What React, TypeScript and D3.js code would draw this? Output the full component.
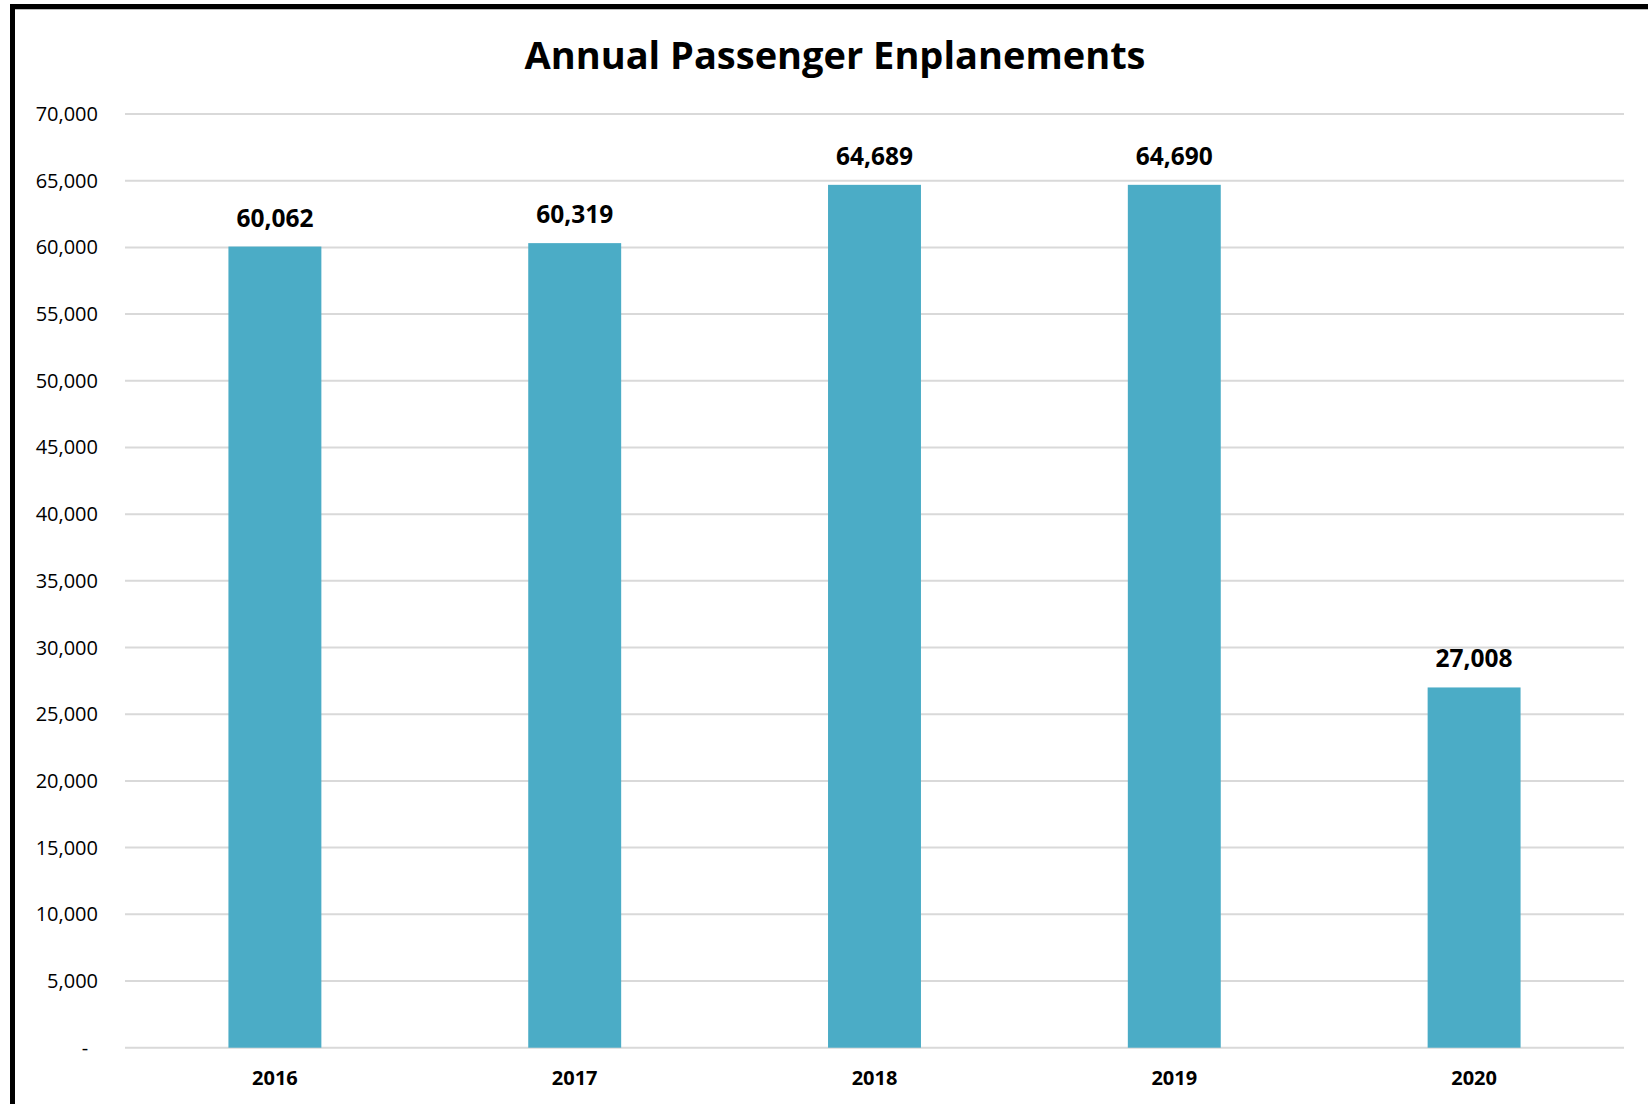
import React from "react";
import * as d3 from "d3";

const years = ["2016", "2017", "2018", "2019", "2020"];
const enplanements = [60062, 60319, 64689, 64690, 27008];
const yTicks = [0, 5000, 10000, 15000, 20000, 25000, 30000, 35000, 40000, 45000, 50000, 55000, 60000, 65000, 70000];
const title = "Annual Passenger Enplanements";

const W = 1648;
const H = 1104;
const FONT = "'Open Sans', 'Noto Sans', sans-serif";

export default function App() {
  const left = 125;
  const right = 1624;
  const top = 114;
  const bottom = 1047.7;

  const x = d3.scaleBand<string>().domain(years).range([left, right]).paddingInner(0.69).paddingOuter(0.345);
  const y = d3.scaleLinear().domain([0, 70000]).range([bottom, top]);
  const fmt = d3.format(",");

  return (
    <svg width={W} height={H} style={{ position: "absolute", left: 0, top: 0, background: "#fff" }}>
      <rect x={0} y={0} width={W} height={H} fill="#fff" />
      {/* frame */}
      <line x1={12.5} y1={4} x2={12.5} y2={H} stroke="#000" strokeWidth={5} />
      <line x1={10} y1={6.5} x2={W} y2={6.5} stroke="#000" strokeWidth={5} />
      <line x1={15} y1={9.5} x2={W} y2={9.5} stroke="#bbb" strokeWidth={1} />

      <text x={835} y={69} textAnchor="middle" fontFamily={FONT} fontWeight={700} fontSize={38} fill="#000">
        {title}
      </text>

      {yTicks.map((t) => (
        <g key={t}>
          <line x1={left} x2={right} y1={y(t)} y2={y(t)} stroke="#d9d9d9" strokeWidth={2} />
          {t === 0 ? (
            <text x={85} y={y(t)} dy="0.35em" textAnchor="middle" fontFamily={FONT} fontSize={20} fill="#000">
              -
            </text>
          ) : (
            <text x={98} y={y(t)} dy="0.35em" textAnchor="end" fontFamily={FONT} fontSize={20} fill="#000">
              {fmt(t)}
            </text>
          )}
        </g>
      ))}

      {years.map((yr, i) => {
        const v = enplanements[i];
        const bx = x(yr)!;
        const bw = x.bandwidth();
        return (
          <g key={yr}>
            <rect x={bx} y={y(v)} width={bw} height={bottom - y(v)} fill="#4BACC6" />
            <text x={bx + bw / 2} y={y(v) - 20} textAnchor="middle" fontFamily={FONT} fontWeight={700} fontSize={24.5} fill="#000">
              {fmt(v)}
            </text>
            <text x={bx + bw / 2} y={1085} textAnchor="middle" fontFamily={FONT} fontWeight={700} fontSize={20} fill="#000">
              {yr}
            </text>
          </g>
        );
      })}
    </svg>
  );
}
